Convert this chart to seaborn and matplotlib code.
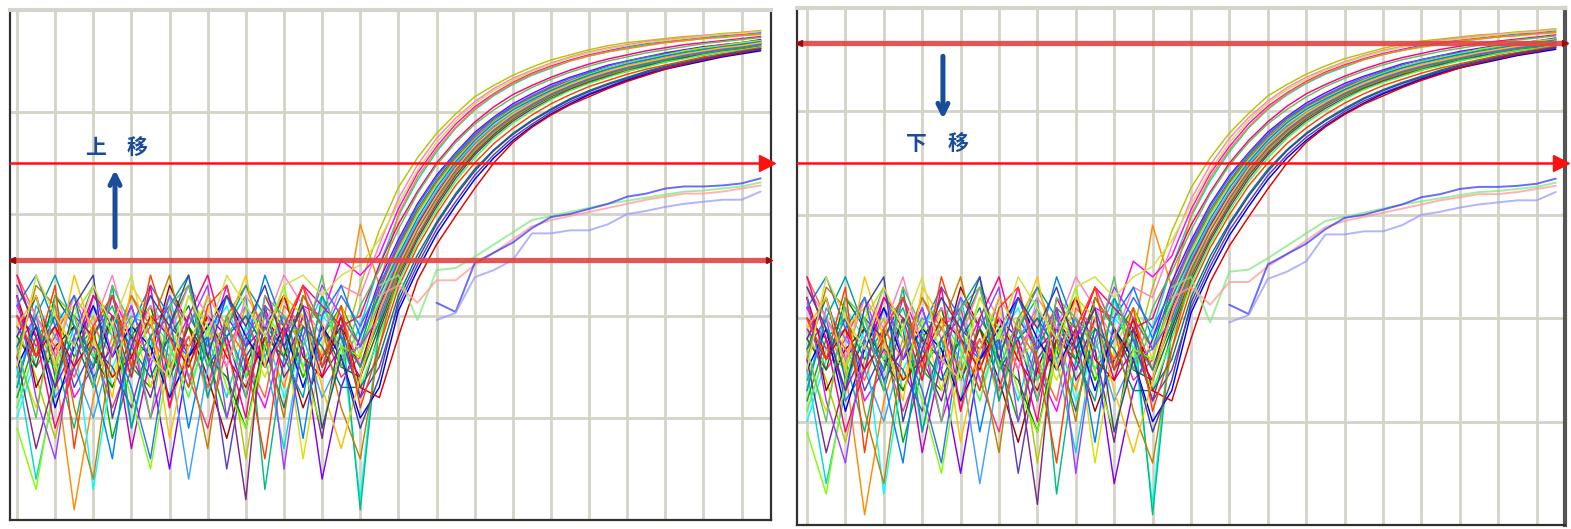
import matplotlib
matplotlib.use("Agg")
import matplotlib.pyplot as plt
import pandas as pd
import seaborn as sns

nan = float("nan")
cycles = list(range(1, 41))

# amplification curves (relative fluorescence, grid units), cycles 1..40
w01 = [1.9,1.4,0.8,1.6,2.0,1.3,1.7,2.1,1.5,1.9,1.2,1.8,0.6,1.7,2.0,1.4,1.9,1.6, 2.3,2.84,3.26,3.55,3.79,3.98,4.15,4.26,4.36,4.44,4.51,4.56,4.61,4.65,4.68,4.70,4.72,4.74,4.75,4.77,4.78,4.80]
w02 = [2.1,1.7,1.9,1.2,1.5,2.2,1.8,1.0,1.6,2.0,1.7,2.3,1.5,1.1,1.8,2.1,2.0,2.55, 2.4,2.6,3.05,3.40,3.66,3.88,4.05,4.18,4.29,4.38,4.45,4.51,4.56,4.60,4.64,4.67,4.69,4.71,4.73,4.75,4.76,4.78]
w03 = [1.5,0.4,1.3,1.9,1.6,2.0,0.9,1.7,2.2,1.4,1.8,1.2,1.9,1.6,0.7,1.8,2.2,1.5, 1.9,2.5,2.98,3.33,3.61,3.84,4.02,4.16,4.27,4.36,4.43,4.50,4.55,4.59,4.63,4.66,4.68,4.70,4.72,4.74,4.75,4.77]
w04 = [2.3,1.9,1.5,0.1,1.2,1.8,1.4,2.0,1.1,1.7,1.9,1.5,2.1,1.8,1.3,2.0,1.6,1.8, 2.9,2.3,3.0,3.36,3.63,3.85,4.03,4.17,4.28,4.37,4.44,4.50,4.55,4.59,4.62,4.65,4.68,4.70,4.72,4.73,4.75,4.76]
w05 = [1.2,1.8,2.0,1.6,1.9,0.8,1.5,1.3,1.9,2.3,1.6,1.0,1.7,2.1,1.9,1.4,1.8,2.1, 1.7,2.3,2.7,3.05,3.33,3.57,3.77,3.93,4.05,4.15,4.24,4.31,4.38,4.43,4.48,4.52,4.56,4.59,4.62,4.64,4.66,4.69]
w06 = [1.8,2.2,1.6,1.9,1.4,1.7,2.1,1.5,0.5,1.6,2.0,1.8,1.2,1.9,2.2,1.7,0.4,1.3, 1.8,2.35,2.75,3.10,3.38,3.60,3.80,3.95,4.08,4.18,4.27,4.34,4.40,4.46,4.50,4.54,4.58,4.61,4.64,4.66,4.68,4.71]
w07 = [1.0,1.6,2.1,1.8,0.3,1.5,1.9,2.2,1.7,1.3,1.8,2.1,1.6,1.9,1.2,1.7,2.0,1.8, 0.2,2.0,2.65,3.00,3.30,3.54,3.74,3.90,4.03,4.13,4.22,4.30,4.36,4.42,4.47,4.51,4.55,4.58,4.61,4.63,4.65,4.68]
w08 = [2.0,1.5,1.8,2.2,1.7,1.1,1.6,1.9,2.1,1.4,0.9,1.7,2.0,1.5,1.8,2.3,1.9,1.4, 1.6,2.25,2.68,3.02,3.31,3.55,3.75,3.91,4.04,4.14,4.23,4.31,4.37,4.43,4.48,4.52,4.56,4.60,4.63,4.66,4.68,4.70]
w09 = [1.7,2.0,1.2,1.5,2.1,1.8,1.3,0.6,1.8,1.6,2.2,1.9,1.4,1.7,2.0,1.5,1.8,2.2, 1.9,2.28,2.72,3.08,3.36,3.59,3.78,3.94,4.06,4.16,4.25,4.33,4.39,4.45,4.50,4.54,4.57,4.60,4.63,4.65,4.67,4.70]
w10 = [2.2,1.3,1.7,1.9,1.5,2.0,1.8,1.6,2.3,1.9,1.4,0.8,1.5,2.0,1.7,1.1,1.6,1.9, 1.5,2.1,2.55,2.90,3.20,3.47,3.68,3.85,3.98,4.09,4.18,4.26,4.33,4.39,4.44,4.48,4.52,4.56,4.59,4.62,4.64,4.67]
w11 = [1.4,1.9,1.6,0.9,1.8,2.1,1.5,1.8,1.2,2.0,1.7,1.9,2.2,0.3,1.6,1.9,1.5,2.0, 0.1,1.9,2.5,2.88,3.18,3.44,3.66,3.83,3.97,4.08,4.17,4.25,4.32,4.38,4.43,4.48,4.52,4.55,4.58,4.61,4.63,4.66]
w12 = [1.6,1.1,1.9,2.1,1.7,1.4,2.0,1.3,1.9,1.5,2.1,1.6,1.8,1.4,1.9,0.6,1.7,2.1, 1.6,2.15,2.58,2.93,3.23,3.49,3.70,3.87,4.00,4.11,4.20,4.28,4.35,4.41,4.46,4.50,4.54,4.57,4.60,4.63,4.65,4.68]
w13 = [2.0,1.8,1.3,1.7,2.2,1.9,0.7,1.6,1.4,1.8,1.3,2.0,1.7,1.9,1.5,2.0,1.4,1.7, 1.4,2.05,2.52,2.88,3.19,3.45,3.66,3.84,3.97,4.08,4.18,4.26,4.33,4.39,4.44,4.48,4.52,4.56,4.59,4.61,4.64,4.66]
w14 = [1.3,2.1,1.8,1.5,1.0,1.7,2.0,1.9,1.6,0.4,1.5,1.8,2.1,1.6,2.0,1.8,1.2,1.6, 1.7,2.12,2.56,2.92,3.22,3.48,3.69,3.86,3.99,4.10,4.19,4.27,4.34,4.40,4.45,4.49,4.53,4.57,4.60,4.62,4.65,4.67]
w15 = [1.8,1.5,2.2,1.9,1.6,1.3,1.8,2.1,1.4,1.9,1.6,1.4,0.9,1.8,1.6,2.2,1.9,1.5, 1.4,1.9,2.4,2.78,3.10,3.38,3.60,3.78,3.93,4.05,4.15,4.23,4.30,4.36,4.41,4.46,4.50,4.54,4.57,4.60,4.62,4.65]
w16 = [1.6,0.7,1.4,2.0,1.8,2.2,1.6,1.2,1.9,1.7,2.0,1.5,0.2,2.1,1.4,1.7,0.8,1.9, 1.2,1.85,2.36,2.75,3.07,3.35,3.58,3.76,3.91,4.03,4.13,4.22,4.29,4.35,4.40,4.45,4.49,4.53,4.56,4.59,4.62,4.64]
w17 = [2.4,2.0,1.7,1.4,1.9,1.6,2.2,1.8,1.5,1.8,1.3,1.9,1.6,1.2,2.1,1.9,1.6,2.0, 1.5,1.95,2.42,2.80,3.12,3.40,3.62,3.80,3.94,4.06,4.16,4.24,4.31,4.37,4.42,4.47,4.51,4.55,4.58,4.61,4.63,4.66]
w18 = [1.1,1.7,1.5,2.0,1.6,1.9,1.4,2.0,1.7,1.2,1.9,1.7,1.4,2.0,1.8,1.5,2.1,1.7, 1.3,1.8,2.33,2.72,3.04,3.32,3.55,3.74,3.89,4.01,4.12,4.21,4.28,4.34,4.40,4.44,4.49,4.52,4.56,4.59,4.61,4.64]
w19 = [1.9,1.6,2.0,1.3,1.7,1.5,1.1,1.8,2.0,1.6,1.8,0.5,1.6,1.9,1.7,2.1,1.5,1.8, 1.2,1.5,2.1,2.50,2.85,3.12,3.38,3.58,3.75,3.88,4.00,4.10,4.18,4.25,4.32,4.38,4.43,4.47,4.51,4.55,4.58,4.61]
w20 = [1.7,2.2,1.4,1.8,1.3,2.0,1.7,1.4,1.8,2.1,1.5,1.8,2.0,1.7,1.1,1.9,1.7,1.3, 1.3,1.6,2.2,2.60,2.92,3.20,3.44,3.63,3.79,3.92,4.03,4.13,4.21,4.28,4.34,4.40,4.45,4.49,4.53,4.56,4.59,4.62]
w21 = [1.5,1.9,1.1,1.7,2.1,1.6,1.9,1.7,1.2,1.6,1.9,2.2,1.8,1.5,1.9,1.3,1.9,1.6, 1.0,1.3,2.05,2.45,2.80,3.08,3.34,3.55,3.72,3.86,3.98,4.08,4.17,4.24,4.31,4.37,4.42,4.46,4.50,4.54,4.57,4.60]
w22 = [2.2,1.6,1.9,1.5,1.8,1.4,1.6,2.0,1.8,1.5,2.0,1.6,1.3,1.8,2.2,1.6,1.4,2.0, 1.3,1.2,1.8,2.35,2.70,2.98,3.25,3.50,3.70,3.85,3.97,4.07,4.15,4.23,4.30,4.36,4.42,4.47,4.51,4.55,4.58,4.62]
w23 = [2.3,2.0,1.6,2.2,1.9,2.4,1.7,2.1,1.8,2.3,2.0,1.5,2.2,1.9,2.4,2.1,1.8,2.3, 2.2,2.7,3.15,3.48,3.74,3.94,4.10,4.23,4.33,4.41,4.48,4.54,4.59,4.63,4.66,4.69,4.71,4.73,4.75,4.76,4.78,4.79]
w24 = [0.9,0.3,1.4,2.0,2.3,1.8,1.2,0.5,1.6,2.2,1.9,1.3,0.9,1.7,2.3,1.5,0.9,1.7, 1.6,2.2,2.64,3.00,3.29,3.53,3.73,3.90,4.03,4.13,4.22,4.30,4.37,4.43,4.48,4.52,4.56,4.60,4.63,4.65,4.68,4.70]
w25 = [2.1,2.4,1.9,2.2,1.4,0.6,1.9,2.3,2.0,0.9,1.8,2.2,1.7,2.4,1.9,0.8,2.0,2.3, 1.8,2.2,2.60,2.96,3.26,3.51,3.72,3.89,4.02,4.12,4.21,4.29,4.36,4.42,4.47,4.51,4.55,4.58,4.61,4.64,4.66,4.69]
w26 = [1.6,2.3,2.1,1.1,0.4,1.7,2.2,1.9,2.4,1.6,0.7,2.0,2.3,1.8,1.0,2.2,1.9,1.1, 0.6,1.7,2.45,2.84,3.15,3.42,3.64,3.81,3.95,4.07,4.16,4.24,4.31,4.37,4.42,4.47,4.51,4.55,4.58,4.61,4.63,4.66]
w27 = [2.4,1.8,0.9,1.5,2.2,2.0,1.4,2.3,1.1,2.0,2.4,1.7,1.0,2.2,1.8,2.3,2.1,1.9, 2.0,2.5,2.90,3.22,3.50,3.72,3.90,4.05,4.17,4.26,4.34,4.41,4.47,4.52,4.56,4.60,4.63,4.66,4.68,4.70,4.72,4.74]
w28 = [1.3,2.0,2.4,1.9,1.5,2.3,0.9,1.8,2.1,2.4,1.2,1.9,2.3,2.0,1.6,1.2,2.2,1.8, 1.5,1.95,2.47,2.85,3.16,3.43,3.65,3.82,3.96,4.07,4.17,4.25,4.32,4.38,4.43,4.47,4.51,4.55,4.58,4.61,4.63,4.66]
w29 = [2.2,1.2,0.6,1.8,2.3,1.6,2.1,1.5,2.2,1.9,2.3,1.0,1.8,2.1,0.5,1.8,2.3,2.0, 1.7,2.0,2.50,2.86,3.17,3.44,3.66,3.83,3.97,4.08,4.18,4.26,4.33,4.39,4.44,4.49,4.53,4.56,4.59,4.62,4.65,4.67]
w30 = [1.9,2.2,1.5,2.4,1.8,1.2,2.3,2.0,0.8,1.7,2.2,1.9,2.4,1.5,2.2,2.0,1.3,0.7, 1.4,2.05,2.50,2.87,3.18,3.45,3.67,3.84,3.98,4.09,4.19,4.27,4.34,4.40,4.45,4.49,4.53,4.57,4.60,4.63,4.65,4.68]
w31 = [1.7,1.0,2.2,2.0,1.3,2.3,1.9,1.0,2.1,2.3,1.5,2.0,1.2,2.2,2.0,1.7,2.4,1.5, 2.1,2.45,2.85,3.20,3.48,3.70,3.88,4.02,4.14,4.24,4.32,4.39,4.45,4.50,4.54,4.58,4.61,4.64,4.67,4.69,4.71,4.73]
w32 = [2.0,1.6,2.3,0.7,1.9,2.2,1.5,2.4,1.8,1.3,2.1,2.3,1.6,0.6,1.9,2.3,1.5,2.1, 1.1,1.7,2.28,2.68,3.00,3.28,3.50,3.69,3.84,3.97,4.08,4.17,4.25,4.31,4.37,4.42,4.46,4.50,4.54,4.57,4.60,4.63]
w33 = [2.3,1.9,1.3,2.1,2.4,1.0,1.7,2.2,1.9,2.4,1.6,2.2,1.9,2.3,1.7,2.1,0.9,1.6, 0.9,1.4,2.15,2.55,2.90,3.18,3.42,3.62,3.78,3.91,4.02,4.12,4.20,4.27,4.33,4.39,4.44,4.48,4.52,4.56,4.59,4.62]
w34 = [1.5,2.4,2.0,1.7,2.3,1.9,2.4,1.6,1.4,2.2,1.8,2.4,2.1,1.8,2.3,2.4,2.2,2.4, 2.5,2.75,3.10,3.43,3.70,3.91,4.08,4.21,4.31,4.40,4.47,4.53,4.58,4.62,4.65,4.68,4.70,4.72,4.74,4.76,4.77,4.79]

# weak / failed wells
low_g = [nan]*19 + [2.3,2.4,1.96,2.45,2.47,2.58,2.70,2.82,2.94,2.98,3.02,3.06,3.10,3.13,3.16,3.19,3.22,3.23,3.25,3.27,3.31]
low_r = [nan]*19 + [2.2,2.3,2.13,2.35,2.35,2.50,2.62,2.75,2.88,2.94,2.98,3.02,3.06,3.10,3.14,3.17,3.20,3.20,3.22,3.25,3.28]
low_b = [nan]*22 + [2.13,2.04,2.52,2.62,2.72,2.86,2.97,3.00,3.05,3.10,3.17,3.20,3.25,3.27,3.27,3.28,3.30,3.35]
low_pb = [nan]*22 + [1.96,2.03,2.38,2.45,2.55,2.81,2.81,2.84,2.84,2.90,3.00,3.03,3.07,3.10,3.12,3.14,3.14,3.22]

main_values = [w01,w02,w03,w04,w05,w06,w07,w08,w09,w10,w11,w12,w13,w14,w15,w16,w17,
               w18,w19,w20,w21,w22,w23,w24,w25,w26,w27,w28,w29,w30,w31,w32,w33,w34]
main_wells = ["w%02d" % (i + 1) for i in range(len(main_values))]
main_colors = ["#b8c400","#ff00ff","#00d8d8","#ff8c00","#00b000","#8000ff","#00ffff","#ff3080",
               "#3070ff","#a00000","#00c080","#e0e000","#c000c0","#40a0ff","#008000","#7a2a8a",
               "#ff6040","#40ff40","#6040c0","#008080","#0000e0","#e00000",
               "#ff80c0","#80ff00","#0080ff","#c08000","#ff0080","#00a0a0","#a040ff","#ffc000",
               "#60c060","#ff4000","#4040a0","#d0e040"]
low_wells = ["g", "r", "b", "pb"]
low_values = [low_g, low_r, low_b, low_pb]
low_colors = ["#80e880", "#ff9a9a", "#3a3aff", "#9a9aff"]

# thresholds (grid units)
left_thresholds = [3.5, 2.55]
right_thresholds = [3.5, 4.66]

rows = []
for name, vals in zip(main_wells, main_values):
    for c, v in zip(cycles, vals):
        rows.append((name, c, v))
df_main = pd.DataFrame(rows, columns=["well", "cycle", "rfu"]).dropna()
rows = []
for name, vals in zip(low_wells, low_values):
    for c, v in zip(cycles, vals):
        rows.append((name, c, v))
df_low = pd.DataFrame(rows, columns=["well", "cycle", "rfu"]).dropna()

sns.set_theme(style="white")
plt.rcParams["font.family"] = ["Noto Sans CJK SC", "DejaVu Sans"]

W, H = 1571, 529
fig = plt.figure(figsize=(W / 100, H / 100), dpi=100, facecolor="white")

def px_axes(l, r, t, b):
    return fig.add_axes([l / W, (H - b) / H, (r - l) / W, (b - t) / H])

axL = px_axes(10, 771, 10, 520)
axR = px_axes(797, 1565, 8, 525)

grid_col = "#d3d3c6"
for ax, xl in ((axL, (0.633, 40.54)), (axR, (0.479, 40.48))):
    ax.set_facecolor("white")
    ax.set_xlim(*xl)
    ax.set_ylim(0, 5)
    ax.set_xticks(range(1, 40, 2))
    ax.set_yticks([0, 1, 2, 3, 4, 5])
    ax.grid(True, color=grid_col, lw=2.0)
    ax.set_axisbelow(True)
    ax.tick_params(length=0, labelbottom=False, labelleft=False)
    sns.lineplot(data=df_main, x="cycle", y="rfu", hue="well", palette=main_colors,
                 estimator=None, sort=False, lw=1.05, legend=False, ax=ax)
    sns.lineplot(data=df_low, x="cycle", y="rfu", hue="well", palette=low_colors,
                 estimator=None, sort=False, lw=1.4, alpha=0.75, legend=False, ax=ax)
    ax.set_xlabel("")
    ax.set_ylabel("")
    for s in ("left", "bottom", "right"):
        ax.spines[s].set_color("#303030")
        ax.spines[s].set_linewidth(1.6)
    ax.spines["top"].set_color("#d4d4cc")
    ax.spines["top"].set_linewidth(3)

axR.spines["right"].set_linewidth(3)
axR.spines["right"].set_color("#555555")

def thin_threshold(ax, y, x0, tipc):
    ax.plot([x0, tipc - 0.3], [y, y], color="#ff1010", lw=1.8, zorder=5, clip_on=False)
    ax.plot([tipc - 0.2], [y], marker=">", ms=11, color="#ff1010", zorder=6, clip_on=False)

def thick_threshold(ax, y, x0, x1):
    ax.plot([x0, x1], [y, y], color="#e04444", alpha=0.9, lw=3.8, zorder=5,
            solid_capstyle="butt", clip_on=False)
    ax.plot([x0 + 0.12], [y], marker="<", ms=5, color="#901010", zorder=6, clip_on=False)
    ax.plot([x1 - 0.12], [y], marker=">", ms=5, color="#901010", zorder=6, clip_on=False)

thin_threshold(axL, left_thresholds[0], 0.633, 40.55)
thick_threshold(axL, left_thresholds[1], 0.633, 40.54)
thin_threshold(axR, right_thresholds[0], 0.479, 40.45)
thick_threshold(axR, right_thresholds[1], 0.479, 40.6)

blue = "#1a4c9c"
axL.annotate("", xy=(6.14, 3.46), xytext=(6.14, 2.65),
             arrowprops=dict(arrowstyle="->", lw=3.6, color=blue, mutation_scale=18), zorder=7)
axL.text(5.1, 3.65, "上", color=blue, fontsize=15, fontweight="bold", ha="center", va="center", zorder=7)
axL.text(7.3, 3.65, "移", color=blue, fontsize=15, fontweight="bold", ha="center", va="center", zorder=7)

axR.annotate("", xy=(8.08, 3.9), xytext=(8.08, 4.56),
             arrowprops=dict(arrowstyle="->", lw=3.6, color=blue, mutation_scale=18), zorder=7)
axR.text(6.7, 3.69, "下", color=blue, fontsize=15, fontweight="bold", ha="center", va="center", zorder=7)
axR.text(8.85, 3.69, "移", color=blue, fontsize=15, fontweight="bold", ha="center", va="center", zorder=7)

fig.savefig("out.png", dpi=100, facecolor="white")
